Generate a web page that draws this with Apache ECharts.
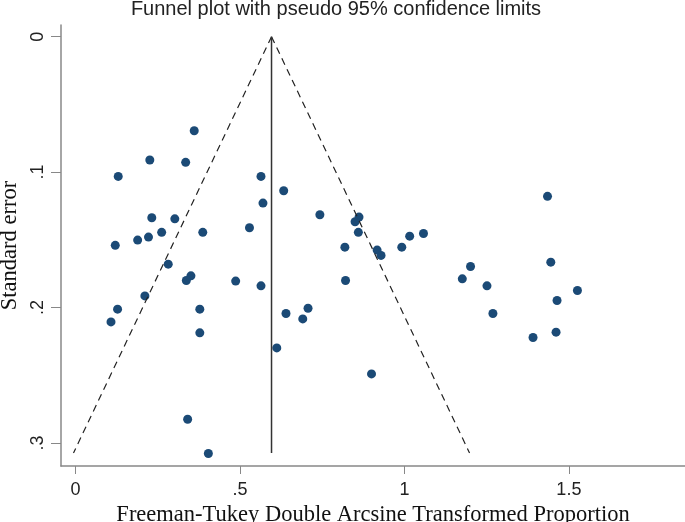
<!DOCTYPE html>
<html>
<head>
<meta charset="utf-8">
<script src="https://cdn.jsdelivr.net/npm/echarts@6/dist/echarts.min.js"></script>
<style>
  html, body { margin: 0; padding: 0; background: #fff; }
</style>
</head>
<body>
<div id="main" style="width: 685px;height: 522px;background: #fff"></div>
<script>
// study estimates (x) and their standard errors (y)
var effect = [
  0.361, 0.226, 0.335, 0.130, 0.232, 0.302, 0.262, 0.387, 0.222, 0.189,
  0.121, 0.282, 0.351, 0.337, 0.211, 0.128, 0.378, 0.108, 0.378, 0.564,
  0.633, 0.570, 0.743, 0.529, 0.819, 0.487, 0.564, 0.821, 0.640, 0.707,
  0.691, 0.612, 1.435, 0.862, 0.850, 0.860, 0.917, 0.929, 0.992, 1.016,
  1.058, 1.445, 1.201, 1.176, 1.251, 1.526, 1.464, 1.269, 1.391, 1.461,
  0.900, 0.341, 0.404
]
var stdErr = [
  0.0695, 0.0911, 0.0928, 0.1032, 0.1337, 0.1345, 0.1445, 0.1445, 0.1480, 0.1502,
  0.1541, 0.1680, 0.1766, 0.1800, 0.1914, 0.2012, 0.2012, 0.2106, 0.2187, 0.1032,
  0.1138, 0.1229, 0.1315, 0.1411, 0.1554, 0.1805, 0.1840, 0.1800, 0.2044, 0.2005,
  0.2084, 0.2298, 0.1179, 0.1332, 0.1367, 0.1445, 0.1576, 0.1615, 0.1554, 0.1473,
  0.1453, 0.1665, 0.1697, 0.1788, 0.1840, 0.1874, 0.1948, 0.2044, 0.2221, 0.2182,
  0.2490, 0.2825, 0.3078
]
// pooled estimate and pseudo 95% limits (apex -> bottom)
var pooled = 0.596
var limitSe = [0, 0.3074]
var lowerLimit = [0.596, -0.006]
var upperLimit = [0.596, 1.198]
// axis ticks
var xTicks = [0, 0.5, 1, 1.5]
var yTicks = [0, 0.1, 0.2, 0.3]

function stataLabel (v) {
  if (v === 0) return '0'
  return String(v).replace(/^0/, '')
}

var points = effect.map(function (x, i) { return [x, stdErr[i]] })

var mychart = echarts.init(document.getElementById('main'))
var option = {
  backgroundColor: '#fff',
  animation: false,
  title: {
    text: 'Funnel plot with pseudo 95% confidence limits',
    left: 336,
    top: -1,
    padding: 0,
    textAlign: 'center',
    textStyle: {
      fontFamily: 'Liberation Sans',
      fontWeight: 'normal',
      fontSize: 20,
      color: '#222'
    }
  },
  grid: {
    left: 61,
    right: 0,
    top: 25,
    bottom: 56,
    outerBoundsMode: 'none'
  },
  xAxis: {
    type: 'value',
    min: -0.044,
    max: 1.853,
    name: 'Freeman-Tukey Double Arcsine Transformed Proportion',
    nameLocation: 'middle',
    nameGap: 34,
    nameTextStyle: {
      fontFamily: 'Liberation Serif',
      fontSize: 22.5,
      color: '#111'
    },
    splitLine: { show: false },
    axisLine: { onZero: false, lineStyle: { color: '#888', width: 1.5 } },
    axisTick: { length: 8, customValues: xTicks, lineStyle: { color: '#888' } },
    axisLabel: {
      customValues: xTicks,
      margin: 15,
      fontFamily: 'Liberation Sans',
      fontSize: 18,
      color: '#222',
      formatter: stataLabel
    }
  },
  yAxis: {
    type: 'value',
    inverse: true,
    min: -0.0086,
    max: 0.317,
    name: 'Standard error',
    nameLocation: 'middle',
    nameGap: 39,
    nameTextStyle: {
      fontFamily: 'Liberation Serif',
      fontSize: 22.5,
      color: '#111'
    },
    splitLine: { show: false },
    axisLine: { show: true, onZero: false, lineStyle: { color: '#888', width: 1.5 } },
    axisTick: { show: true, length: 10, customValues: yTicks, lineStyle: { color: '#888' } },
    axisLabel: {
      customValues: yTicks,
      rotate: 90,
      margin: 14,
      fontFamily: 'Liberation Sans',
      fontSize: 18,
      color: '#222',
      formatter: stataLabel
    }
  },
  series: [
    {
      name: 'lower',
      type: 'line',
      symbol: 'none',
      data: [[lowerLimit[0], limitSe[0]], [lowerLimit[1], limitSe[1]]],
      lineStyle: { color: '#222', width: 1.2, type: [7, 5] }
    },
    {
      name: 'upper',
      type: 'line',
      symbol: 'none',
      data: [[upperLimit[0], limitSe[0]], [upperLimit[1], limitSe[1]]],
      lineStyle: { color: '#222', width: 1.2, type: [7, 5] }
    },
    {
      name: 'pooled',
      type: 'line',
      symbol: 'none',
      data: [[pooled, limitSe[0]], [pooled, limitSe[1]]],
      lineStyle: { color: '#333', width: 1.5 }
    },
    {
      name: 'studies',
      type: 'scatter',
      symbolSize: 9,
      itemStyle: { color: '#1b4a76', opacity: 1 },
      data: points
    }
  ]
}
mychart.setOption(option)
</script>
</body>
</html>
